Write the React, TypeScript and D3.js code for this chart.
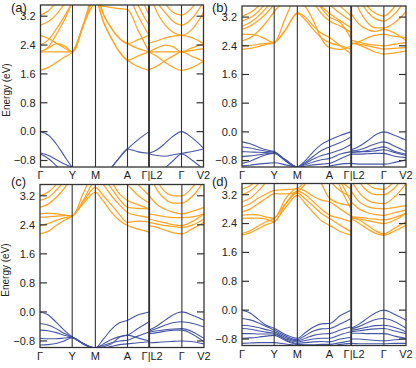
import React from "react";
import * as d3 from "d3";

// High-symmetry path
const kLabels = ["Γ", "Y", "M", "A", "Γ|L2", "Γ", "V2"];
const kTicks = [0, 32, 55, 87, 108.5, 141, 163];
const yTicks = [3.2, 2.4, 1.6, 0.8, 0.0, -0.8];
const eDomain: [number, number] = [-0.98, 3.51];
const panelLabels = ["(a)", "(b)", "(c)", "(d)"];

// sample layout: [segment index, fraction]; break after index 12
const sampleSpec: [number, number][] = [
  [0, 0], [0, 0.25], [0, 0.5], [0, 0.75], [0, 1],
  [1, 0.5], [1, 1],
  [2, 0.25], [2, 0.5], [2, 0.75], [2, 1],
  [3, 0.5], [3, 1],
  [4, 0], [4, 0.25], [4, 0.5], [4, 0.75], [4, 1],
  [5, 0.5], [5, 1],
];

// Panel (a)
const condA = [
  [1.70, 1.78, 1.92, 2.07, 2.21, 3.0, 3.7, 3.04, 2.58, 2.21, 1.98, 1.80, 1.70, 2.21, 2.08, 1.92, 1.78, 1.70, 1.78, 1.95],
  [2.21, 2.21, 2.21, 2.21, 2.21, 3.05, 3.9, 3.25, 2.86, 2.58, 2.44, 2.30, 2.21, 1.72, 1.82, 1.97, 2.10, 2.21, 2.08, 1.95],
  [2.21, 2.32, 2.44, 2.38, 2.21, 3.0, 3.55, 3.48, 3.44, 3.41, 3.38, 2.80, 2.21, 2.21, 2.32, 2.40, 2.35, 2.21, 2.33, 2.44],
  [2.67, 2.58, 2.45, 2.32, 2.21, 3.0, 3.9, 4.2, 4.1, 3.95, 3.8, 3.2, 2.67, 3.9, 3.3, 2.95, 2.75, 2.67, 2.85, 3.3],
  [2.40, 2.55, 2.85, 3.2, 3.6, 4.3, 4.6, 4.5, 4.5, 4.5, 4.3, 3.5, 2.95, 2.21, 2.21, 2.21, 2.21, 2.21, 2.25, 2.30],
  [2.95, 3.05, 3.25, 3.55, 3.9, 4.0, 3.7, 3.04, 2.58, 2.21, 1.98, 2.10, 2.21, 4.2, 3.6, 3.3, 3.05, 2.95, 3.15, 3.6],
  [3.23, 3.35, 3.6, 3.9, 4.2, 4.5, 3.9, 3.25, 2.86, 2.58, 2.44, 2.55, 2.67, 4.4, 3.9, 3.55, 3.3, 3.23, 3.45, 3.9],
  [2.21, 2.35, 2.70, 3.10, 3.60, 4.3, 4.6, 4.6, 4.6, 4.6, 4.6, 3.9, 3.23, 2.45, 2.52, 2.60, 2.65, 2.67, 2.60, 2.44],
];
const valA = [
  [0.0, -0.10, -0.35, -0.68, -1.0, -1.3, -1.6, -1.35, -1.0, -0.72, -0.48, -0.22, 0.0, -0.60, -0.50, -0.32, -0.12, 0.0, -0.18, -0.46],
  [-0.59, -0.66, -0.78, -0.90, -1.0, -1.3, -1.6, -1.35, -1.0, -0.72, -0.48, -0.56, -0.60, -0.62, -0.66, -0.68, -0.64, -0.60, -0.55, -0.48],
  [-0.62, -0.75, -0.95, -1.15, -1.3, -1.5, -1.7, -1.6, -1.5, -1.4, -1.3, -1.2, -1.1, -1.3, -1.2, -1.0, -0.80, -0.62, -0.80, -1.05],
];

// Panel (b)
const condB = [
  [2.31, 2.33, 2.38, 2.44, 2.49, 2.85, 3.32, 3.20, 2.95, 2.75, 2.63, 2.40, 2.17, 2.49, 2.42, 2.32, 2.22, 2.17, 2.20, 2.26],
  [2.40, 2.41, 2.44, 2.47, 2.49, 2.86, 3.30, 3.12, 2.85, 2.62, 2.49, 2.40, 2.31, 2.47, 2.45, 2.40, 2.35, 2.31, 2.33, 2.35],
  [2.72, 2.72, 2.68, 2.58, 2.49, 3.2, 3.8, 3.5, 3.1, 2.60, 2.35, 2.30, 2.40, 2.55, 2.50, 2.44, 2.42, 2.40, 2.45, 2.49],
  [2.54, 2.62, 2.80, 3.05, 3.35, 3.7, 4.0, 3.9, 3.6, 3.3, 3.09, 2.95, 2.77, 2.44, 2.52, 2.62, 2.70, 2.72, 2.66, 2.63],
  [2.86, 2.95, 3.10, 3.30, 3.55, 3.9, 4.2, 4.0, 3.75, 3.45, 3.20, 3.05, 2.60, 3.3, 3.0, 2.85, 2.80, 2.86, 2.75, 2.55],
  [2.95, 3.05, 3.22, 3.45, 3.7, 4.0, 4.2, 4.1, 3.8, 3.5, 3.30, 3.10, 2.90, 3.9, 3.4, 3.05, 2.9, 2.90, 3.05, 3.35],
  [3.09, 3.18, 3.35, 3.6, 3.9, 4.2, 4.4, 4.3, 4.1, 3.8, 3.55, 3.3, 3.09, 4.2, 3.7, 3.35, 3.15, 3.09, 3.3, 3.7],
  [3.23, 3.32, 3.5, 3.8, 4.1, 4.4, 4.5, 4.5, 4.3, 4.0, 3.75, 3.5, 3.23, 4.4, 3.9, 3.5, 3.3, 3.23, 3.5, 3.9],
];
const valB = [
  [-0.28, -0.33, -0.42, -0.50, -0.55, -0.78, -0.97, -0.80, -0.55, -0.35, -0.23, -0.10, 0.0, -0.50, -0.40, -0.25, -0.08, 0.0, -0.10, -0.23],
  [-0.42, -0.45, -0.50, -0.54, -0.57, -0.80, -0.98, -0.85, -0.68, -0.52, -0.42, -0.30, -0.14, -0.55, -0.50, -0.42, -0.33, -0.28, -0.40, -0.55],
  [-0.55, -0.56, -0.57, -0.58, -0.59, -0.80, -0.98, -0.88, -0.76, -0.66, -0.60, -0.50, -0.35, -0.58, -0.56, -0.52, -0.46, -0.42, -0.55, -0.62],
  [-0.69, -0.67, -0.64, -0.61, -0.59, -0.80, -0.99, -0.92, -0.84, -0.78, -0.74, -0.62, -0.55, -0.52, -0.55, -0.55, -0.53, -0.50, -0.58, -0.66],
  [-0.88, -0.82, -0.72, -0.64, -0.60, -0.82, -1.0, -0.96, -0.92, -0.90, -0.88, -0.75, -0.62, -0.62, -0.62, -0.61, -0.60, -0.60, -0.68, -0.72],
  [-0.95, -0.93, -0.90, -0.88, -0.86, -0.92, -1.0, -1.1, -1.05, -1.0, -0.95, -0.9, -0.88, -0.88, -0.90, -0.90, -0.90, -0.90, -0.85, -0.78],
];

// Panel (c)
const condC = [
  [2.15, 2.22, 2.38, 2.52, 2.64, 3.0, 3.29, 3.05, 2.75, 2.52, 2.38, 2.28, 2.20, 2.38, 2.33, 2.25, 2.18, 2.15, 2.30, 2.47],
  [2.38, 2.43, 2.52, 2.59, 2.64, 3.05, 3.43, 3.2, 2.95, 2.68, 2.47, 2.50, 2.47, 2.47, 2.42, 2.38, 2.35, 2.33, 2.40, 2.56],
  [2.61, 2.62, 2.64, 2.65, 2.65, 3.1, 3.6, 3.5, 3.2, 2.95, 2.74, 2.65, 2.60, 2.56, 2.50, 2.45, 2.40, 2.38, 2.50, 2.70],
  [2.70, 2.72, 2.70, 2.67, 2.64, 3.3, 3.9, 3.7, 3.4, 3.1, 2.88, 2.85, 2.84, 2.70, 2.66, 2.62, 2.60, 2.60, 2.62, 2.70],
  [2.88, 2.97, 3.15, 3.4, 3.7, 4.0, 4.2, 4.0, 3.6, 3.25, 3.07, 2.95, 2.84, 3.2, 2.95, 2.82, 2.74, 2.70, 2.78, 2.88],
  [3.07, 3.15, 3.35, 3.6, 3.9, 4.2, 4.4, 4.3, 4.0, 3.7, 3.5, 3.2, 3.0, 3.8, 3.35, 3.1, 3.0, 3.0, 3.2, 3.6],
  [3.20, 3.30, 3.5, 3.8, 4.1, 4.4, 4.6, 4.5, 4.3, 4.0, 3.8, 3.5, 3.2, 4.1, 3.6, 3.3, 3.2, 3.2, 3.45, 3.9],
];
const valC = [
  [0.0, -0.08, -0.28, -0.50, -0.69, -0.88, -0.99, -0.75, -0.48, -0.30, -0.23, -0.08, 0.0, -0.50, -0.38, -0.22, -0.07, 0.0, -0.10, -0.23],
  [-0.32, -0.36, -0.46, -0.59, -0.69, -0.88, -0.99, -0.88, -0.76, -0.68, -0.64, -0.45, -0.27, -0.53, -0.45, -0.36, -0.29, -0.27, -0.32, -0.41],
  [-0.50, -0.52, -0.57, -0.64, -0.70, -0.88, -0.99, -0.92, -0.85, -0.80, -0.78, -0.66, -0.55, -0.56, -0.52, -0.49, -0.47, -0.46, -0.55, -0.73],
  [-0.73, -0.74, -0.74, -0.72, -0.70, -0.88, -1.0, -0.96, -0.88, -0.70, -0.64, -0.72, -0.80, -0.60, -0.57, -0.53, -0.50, -0.50, -0.62, -0.82],
  [-0.91, -0.90, -0.87, -0.80, -0.71, -0.90, -1.0, -1.0, -0.95, -0.90, -0.88, -0.85, -0.82, -0.85, -0.84, -0.82, -0.81, -0.80, -0.82, -0.88],
];

// Panel (d)
const condD = [
  [2.08, 2.14, 2.25, 2.37, 2.45, 2.85, 3.18, 2.95, 2.70, 2.48, 2.35, 2.18, 2.08, 2.54, 2.40, 2.25, 2.13, 2.08, 2.20, 2.35],
  [2.12, 2.20, 2.33, 2.45, 2.54, 2.95, 3.25, 3.08, 2.88, 2.68, 2.54, 2.35, 2.17, 2.59, 2.50, 2.35, 2.20, 2.12, 2.28, 2.45],
  [2.54, 2.55, 2.55, 2.52, 2.45, 2.95, 3.30, 3.2, 3.0, 2.80, 2.63, 2.55, 2.45, 2.54, 2.52, 2.48, 2.43, 2.40, 2.50, 2.68],
  [2.63, 2.65, 2.64, 2.58, 2.54, 3.1, 3.37, 3.3, 3.15, 3.05, 3.0, 2.8, 2.60, 2.59, 2.57, 2.54, 2.52, 2.50, 2.57, 2.68],
  [2.72, 2.80, 2.95, 3.10, 3.23, 3.22, 3.28, 3.5, 3.8, 4.0, 4.2, 3.4, 2.80, 3.0, 2.8, 2.7, 2.65, 2.63, 2.70, 2.77],
  [2.86, 2.95, 3.10, 3.22, 3.32, 3.34, 3.37, 3.6, 3.9, 4.1, 4.3, 3.6, 3.0, 3.3, 3.0, 2.87, 2.82, 2.81, 2.85, 2.9],
  [3.0, 3.1, 3.3, 3.55, 3.85, 4.1, 4.3, 4.2, 3.9, 3.5, 3.1, 2.95, 2.9, 3.6, 3.25, 3.05, 2.97, 2.95, 3.15, 3.5],
  [3.2, 3.3, 3.5, 3.8, 4.1, 4.3, 4.5, 4.4, 4.2, 3.9, 3.6, 3.3, 3.15, 4.0, 3.55, 3.3, 3.2, 3.2, 3.4, 3.8],
  [3.35, 3.45, 3.65, 3.95, 4.3, 4.5, 4.6, 4.6, 4.5, 4.3, 4.0, 3.6, 3.35, 4.3, 3.8, 3.5, 3.37, 3.35, 3.6, 4.0],
];
const valD = [
  [0.0, -0.08, -0.25, -0.42, -0.50, -0.68, -0.78, -0.62, -0.47, -0.38, -0.37, -0.15, 0.0, -0.50, -0.38, -0.22, -0.07, 0.0, -0.12, -0.28],
  [-0.23, -0.27, -0.35, -0.45, -0.55, -0.72, -0.82, -0.70, -0.58, -0.52, -0.51, -0.38, -0.23, -0.52, -0.45, -0.35, -0.26, -0.23, -0.32, -0.50],
  [-0.42, -0.44, -0.48, -0.54, -0.60, -0.76, -0.85, -0.78, -0.70, -0.66, -0.65, -0.55, -0.46, -0.56, -0.52, -0.47, -0.43, -0.42, -0.48, -0.60],
  [-0.51, -0.53, -0.57, -0.61, -0.64, -0.80, -0.88, -0.84, -0.80, -0.78, -0.78, -0.68, -0.60, -0.60, -0.57, -0.54, -0.52, -0.51, -0.58, -0.65],
  [-0.65, -0.65, -0.66, -0.66, -0.66, -0.82, -0.92, -0.90, -0.88, -0.87, -0.88, -0.80, -0.75, -0.64, -0.64, -0.65, -0.65, -0.65, -0.72, -0.78],
  [-0.78, -0.77, -0.75, -0.72, -0.70, -0.85, -0.95, -0.96, -0.96, -0.95, -0.95, -0.90, -0.85, -0.80, -0.80, -0.82, -0.84, -0.85, -0.82, -0.80],
  [-0.92, -0.91, -0.90, -0.90, -0.90, -0.94, -0.98, -1.0, -1.0, -1.0, -1.0, -0.95, -0.92, -0.92, -0.93, -0.93, -0.93, -0.93, -0.92, -0.92],
];

const ORANGE = "#FFA424";
const BLUE = "#4657A6";
const FRAME = "#333";
const FONT = "'Liberation Sans', Arial, Helvetica, sans-serif";

type PanelProps = {
  id: string; x0: number; y0: number; w: number; h: number;
  label: string; cond: number[][]; val: number[][];
  labelX: number; labelY: number; showYTitle: boolean;
};

function Panel({ id, x0, y0, w, h, label, cond, val, labelX, labelY, showYTitle }: PanelProps) {
  const xs = d3.scaleLinear().domain([0, kTicks[kTicks.length - 1]]).range([0, w]);
  const ys = d3.scaleLinear().domain(eDomain).range([h, 0]);
  const kAt = ([s, f]: [number, number]) => kTicks[s] + f * (kTicks[s + 1] - kTicks[s]);
  const ks = sampleSpec.map(kAt);
  const line = d3.line<[number, number]>().x((d) => xs(d[0])).y((d) => ys(d[1])).curve(d3.curveMonotoneX);
  const paths = (bands: number[][]) =>
    bands.flatMap((b) => {
      const pts: [number, number][] = b.map((e, i) => [ks[i], e]);
      return [line(pts.slice(0, 13)) || "", line(pts.slice(13)) || ""];
    });
  return (
    <g>
      <defs>
        <clipPath id={id}>
          <rect x={x0} y={y0} width={w} height={h} />
        </clipPath>
      </defs>
      <g clipPath={`url(#${id})`}>
        <g transform={`translate(${x0},${y0})`}>
          {paths(cond).map((d, i) => (
            <path key={"c" + i} d={d} fill="none" stroke={ORANGE} strokeWidth={1.25} />
          ))}
          {paths(val).map((d, i) => (
            <path key={"v" + i} d={d} fill="none" stroke={BLUE} strokeWidth={1.1} />
          ))}
        </g>
      </g>
      <g transform={`translate(${x0},${y0})`}>
        {kTicks.slice(1, -1).map((k, i) => (
          <line key={i} x1={xs(k)} x2={xs(k)} y1={0} y2={h} stroke={FRAME}
            strokeWidth={kLabels[i + 1] === "Γ|L2" ? 1.9 : 1.1} />
        ))}
        {yTicks.map((t) => (
          <g key={t}>
            <line x1={0} x2={7} y1={ys(t)} y2={ys(t)} stroke={FRAME} strokeWidth={1.2} />
            <line x1={w - 7} x2={w} y1={ys(t)} y2={ys(t)} stroke={FRAME} strokeWidth={1.2} />
            <text x={-5} y={ys(t)} dy="0.35em" textAnchor="end" fontSize={11} fill="#222" fontFamily={FONT}>
              {t < 0 ? "\u2212" + Math.abs(t).toFixed(1) : t.toFixed(1)}
            </text>
          </g>
        ))}
        <rect x={0} y={0} width={w} height={h} fill="none" stroke={FRAME} strokeWidth={1.3} />
        {kTicks.map((k, i) =>
          kLabels[i] === "Γ|L2" ? (
            <text key={i} x={xs(k) + 3} y={h + 12} textAnchor="middle" fontSize={11} fill="#222" fontFamily={FONT}>
              {"Γ|L2"}
            </text>
          ) : (
            <text key={i} x={xs(k)} y={h + 12} textAnchor="middle" fontSize={11} fill="#222" fontFamily={FONT}>
              {kLabels[i]}
            </text>
          )
        )}
        {showYTitle && (
          <text transform={`translate(${-31},${h / 2 + 4}) rotate(-90)`} textAnchor="middle" fontSize={10} fill="#222" fontFamily={FONT}>
            Energy (eV)
          </text>
        )}
      </g>
      <text x={labelX} y={labelY} fontSize={13} fill="#222" fontFamily={FONT}>{label}</text>
    </g>
  );
}

export default function App() {
  return (
    <svg width={416} height={368} style={{ display: "block", position: "absolute", left: 0, top: 0, background: "#fff" }}>
      <Panel id="pa" x0={40.5} y0={5} w={163} h={162} label={panelLabels[0]} cond={condA} val={valA} labelX={11} labelY={12} showYTitle={true} />
      <Panel id="pb" x0={242} y0={6} w={164} h={161} label={panelLabels[1]} cond={condB} val={valB} labelX={212} labelY={12} showYTitle={false} />
      <Panel id="pc" x0={40} y0={184.5} w={164} h={163} label={panelLabels[2]} cond={condC} val={valC} labelX={11} labelY={186} showYTitle={true} />
      <Panel id="pd" x0={242} y0={183.5} w={164} h={162} label={panelLabels[3]} cond={condD} val={valD} labelX={212} labelY={186} showYTitle={false} />
    </svg>
  );
}
